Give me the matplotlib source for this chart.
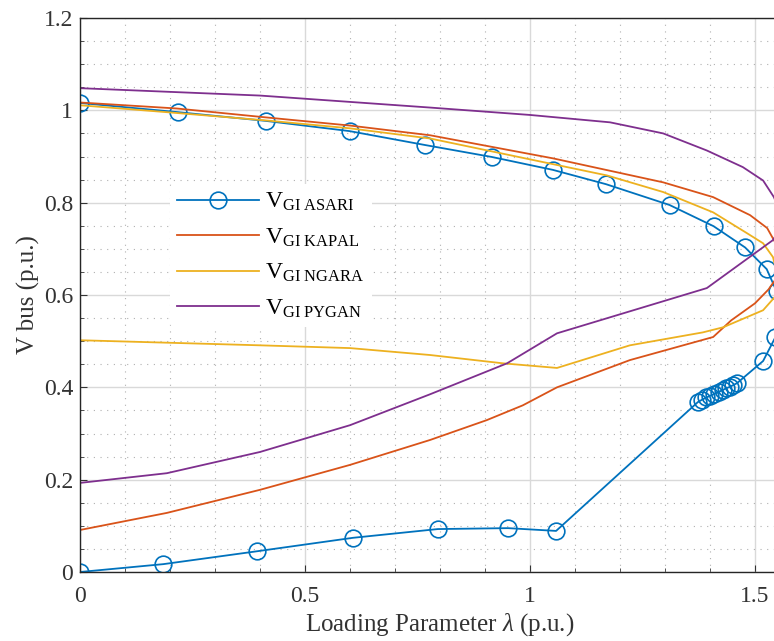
import matplotlib
matplotlib.use('Agg')
import matplotlib.pyplot as plt
from matplotlib.ticker import MultipleLocator

plt.rcParams['font.family'] = ['Liberation Serif', 'DejaVu Serif']
plt.rcParams['mathtext.fontset'] = 'custom'
plt.rcParams['mathtext.rm'] = 'Liberation Serif'
plt.rcParams['mathtext.it'] = 'Liberation Serif:italic'

# PV curves, upper branch out to the nose and back along the lower branch
asari_x = [0, 0.218, 0.414, 0.599, 0.766, 0.915, 1.051, 1.169, 1.310, 1.408, 1.478, 1.526,
           1.548, 1.562, 1.545, 1.518, 1.460, 1.452, 1.444, 1.436, 1.428, 1.419, 1.410,
           1.401, 1.392, 1.382, 1.373, 1.058, 0.951, 0.795, 0.606, 0.394, 0.185, 0]
asari_y = [1.016, 0.996, 0.977, 0.955, 0.925, 0.899, 0.871, 0.840, 0.795, 0.749, 0.703, 0.656,
           0.608, 0.556, 0.508, 0.457, 0.409, 0.405, 0.401, 0.398, 0.394, 0.390, 0.386,
           0.382, 0.378, 0.373, 0.368, 0.089, 0.095, 0.093, 0.074, 0.045, 0.017, 0]

kapal_x = [0, 0.215, 0.41, 0.6, 0.778, 1.051, 1.296, 1.407, 1.489, 1.527, 1.550, 1.557,
           1.550, 1.530, 1.500, 1.447, 1.407, 1.222, 1.060, 0.984, 0.904, 0.778, 0.6,
           0.4, 0.193, 0]
kapal_y = [1.017, 1.004, 0.985, 0.967, 0.946, 0.896, 0.844, 0.812, 0.773, 0.745, 0.705, 0.670,
           0.640, 0.612, 0.582, 0.545, 0.509, 0.459, 0.400, 0.361, 0.329, 0.286, 0.232,
           0.178, 0.128, 0.091]

ngara_x = [0, 0.193, 0.415, 0.6, 0.778, 1.171, 1.296, 1.407, 1.482, 1.518, 1.540, 1.553,
           1.548, 1.518, 1.429, 1.384, 1.222, 1.060, 0.940, 0.778, 0.6, 0.4, 0]
ngara_y = [1.011, 0.996, 0.978, 0.961, 0.939, 0.859, 0.823, 0.779, 0.734, 0.712, 0.682, 0.630,
           0.600, 0.567, 0.530, 0.519, 0.491, 0.442, 0.452, 0.470, 0.485, 0.491, 0.502]

pygan_x = [0, 0.4, 0.778, 1.0, 1.178, 1.296, 1.393, 1.473, 1.518, 1.542, 1.560, 1.556,
           1.540, 1.393, 1.060, 0.949, 0.778, 0.6, 0.4, 0.193, 0]
pygan_y = [1.048, 1.032, 1.006, 0.990, 0.974, 0.950, 0.913, 0.877, 0.848, 0.812, 0.770, 0.745,
           0.719, 0.615, 0.517, 0.452, 0.385, 0.318, 0.260, 0.214, 0.193]

labels = [r'V$_{\rm GI\ ASARI}$', r'V$_{\rm GI\ KAPAL}$',
          r'V$_{\rm GI\ NGARA}$', r'V$_{\rm GI\ PYGAN}$']
colors = ['#0072BD', '#D95319', '#EDB120', '#7E2F8E']

fig = plt.figure(figsize=(7.74, 6.41), dpi=100)
# axes run past the right edge of the figure, as in the cropped original
ax = fig.add_axes([80 / 774, (641 - 572) / 641, 720 / 774, 554 / 641])

ax.plot(asari_x, asari_y, color=colors[0], lw=1.3, marker='o', ms=12,
        mfc='none', mew=1.2, label=labels[0])
ax.plot(kapal_x, kapal_y, color=colors[1], lw=1.3, label=labels[1])
ax.plot(ngara_x, ngara_y, color=colors[2], lw=1.3, label=labels[2])
ax.plot(pygan_x, pygan_y, color=colors[3], lw=1.3, label=labels[3])

ax.set_xlim(0, 1.6)
ax.set_ylim(0, 1.2)
ax.xaxis.set_major_locator(MultipleLocator(0.5))
ax.xaxis.set_minor_locator(MultipleLocator(0.1))
ax.yaxis.set_major_locator(MultipleLocator(0.2))
ax.yaxis.set_minor_locator(MultipleLocator(0.05))
ax.xaxis.set_major_formatter(plt.FuncFormatter(lambda v, p: f'{v:g}'))
ax.yaxis.set_major_formatter(plt.FuncFormatter(lambda v, p: f'{v:g}'))

ax.grid(True, which='major', color='#d9d9d9', lw=1.0)
ax.grid(True, which='minor', color='#b0b0b0', lw=0.8, ls=(0, (1, 5)))
ax.set_axisbelow(True)
ax.tick_params(which='both', direction='in', top=False, right=False,
               labelsize=17, colors='#333333')
ax.tick_params(which='major', length=5)
ax.tick_params(which='minor', length=3)
ax.tick_params(axis='x', which='major', pad=10)
ax.tick_params(axis='y', which='major', pad=5)
for s in ax.spines.values():
    s.set_color('#262626')
    s.set_linewidth(1.0)

ax.set_xlabel(r'Loading Parameter $\lambda$ (p.u.)', fontsize=18, color='#333333',
              labelpad=3)
ax.set_ylabel('V bus (p.u.)', fontsize=18, color='#333333', labelpad=3)

leg = ax.legend(loc='upper left', bbox_to_anchor=(0.108, 0.722), fontsize=17,
                frameon=True, facecolor='white', edgecolor='none', framealpha=1,
                handlelength=3.5, handletextpad=0.25, labelspacing=0.56,
                borderpad=0.3)

plt.savefig('out.png', dpi=100)
plt.close()
